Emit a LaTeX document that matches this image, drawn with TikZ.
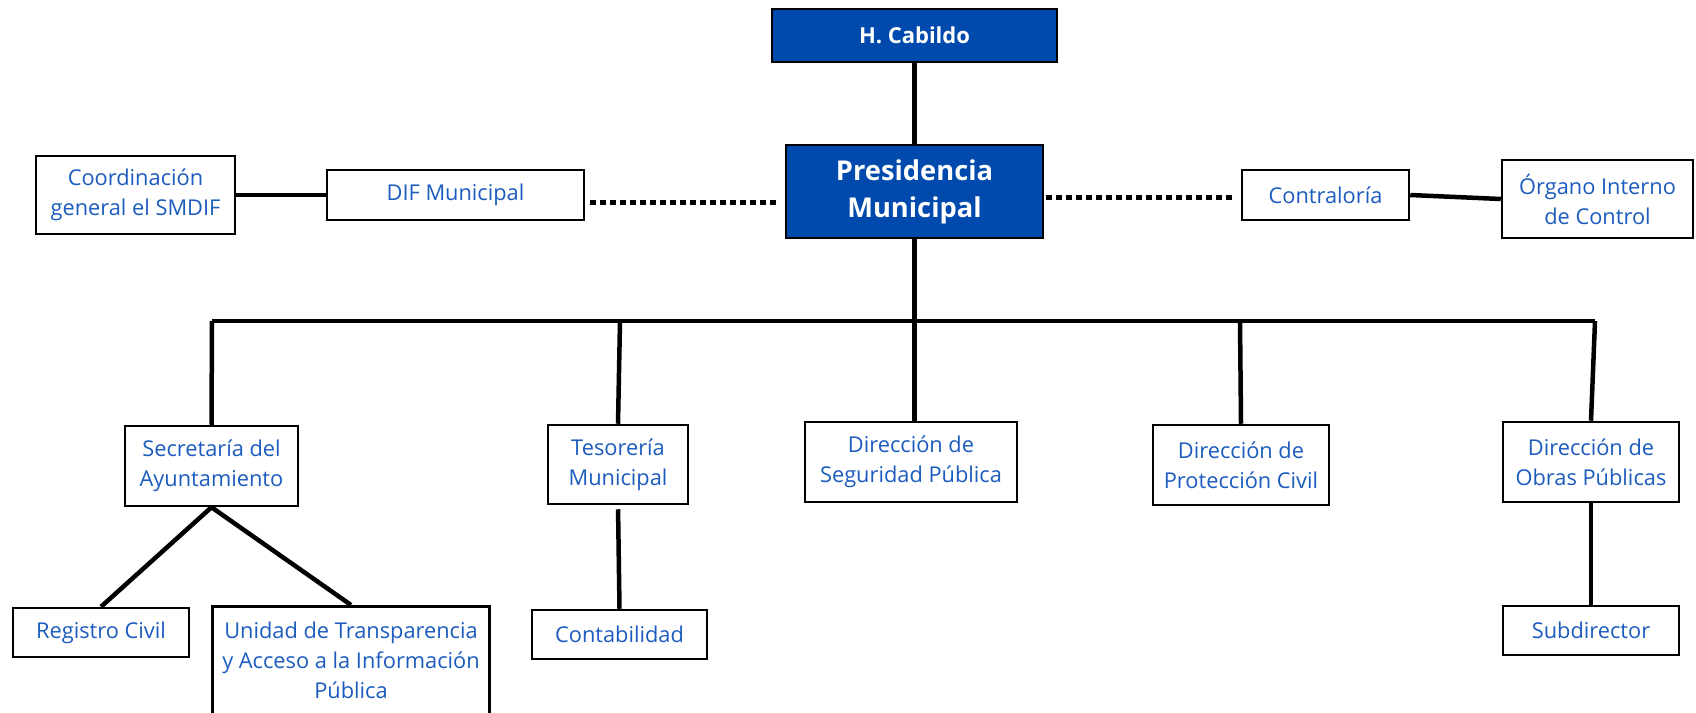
\documentclass[tikz,border=0pt]{standalone}
\usepackage{fontspec}
\setmainfont{Open Sans}
\usetikzlibrary{positioning}
\definecolor{headblue}{RGB}{0,74,173}
\definecolor{unitblue}{RGB}{28,92,190}

\begin{document}
\begin{tikzpicture}[x=1pt,y=-1pt,
  head node/.style={rectangle,draw=black,line width=2.5pt,fill=headblue,text=white,align=center,inner sep=0pt},
  unit node/.style={rectangle,draw=black,line width=2.5pt,fill=white,text=unitblue,align=center,inner sep=0pt,
    font=\fontsize{21.8}{30}\selectfont},
  link/.style={line width=4.5pt},
  dotted link/.style={line width=5pt,dash pattern=on 6pt off 4pt}]
  \useasboundingbox (0,0) rectangle (1696,712);
  \clip (0,0) rectangle (1696,712);

  % top of the chart
  \node[head node, minimum width=285pt, minimum height=53pt, font=\fontsize{22}{26}\selectfont\bfseries] (cab) at (914.5,35.5) {H. Cabildo};
  \node[head node, minimum width=257pt, minimum height=93pt, font=\fontsize{27.3}{37}\selectfont\bfseries] (pres) at (914.5,191.5) {Presidencia\\Municipal};

  % side units
  \node[unit node, minimum width=199pt, minimum height=78pt] (coord) at (135.5,195) {Coordinación\\general el SMDIF};
  \node[unit node, minimum width=257pt, minimum height=50pt] (dif) at (455.5,195) {DIF Municipal};
  \node[unit node, minimum width=167pt, minimum height=50pt] (contra) at (1325.5,195) {Contraloría};
  \node[unit node, minimum width=191pt, minimum height=78pt] (organo) at (1597.5,199) {Órgano Interno\\de Control};

  % direcciones
  \node[unit node, minimum width=173pt, minimum height=80pt] (secre) at (211.5,466) {Secretaría del\\Ayuntamiento};
  \node[unit node, minimum width=140pt, minimum height=79pt] (tes) at (618,464.5) {Tesorería\\Municipal};
  \node[unit node, minimum width=212pt, minimum height=80pt] (seg) at (911,462) {Dirección de\\Seguridad Pública};
  \node[unit node, minimum width=176pt, minimum height=80pt] (prot) at (1241,465) {Dirección de\\Protección Civil};
  \node[unit node, minimum width=176pt, minimum height=80pt] (obras) at (1591,462) {Dirección de\\Obras Públicas};

  % lower units
  \node[unit node, minimum width=176pt, minimum height=49pt] (reg) at (101,632.5) {Registro Civil};
  \node[unit node, minimum width=277pt, inner ysep=16pt, anchor=north] (unidad) at (351,605) {Unidad de Transparencia\\y Acceso a la Información\\Pública};
  \node[unit node, minimum width=175pt, minimum height=49pt] (conta) at (619.5,634.5) {Contabilidad};
  \node[unit node, minimum width=176pt, minimum height=49pt] (sub) at (1591,630.5) {Subdirector};

  % bus
  \coordinate (busL) at (212,321);
  \coordinate (busT) at (620,321);
  \coordinate (busP) at (1240,321);
  \coordinate (busR) at (1595,321);

  \draw[link] (cab.south) -- (pres.north);
  \draw[link] (pres.south) -- (pres.south |- seg.north);
  \draw[link] (busL) -- (busR);
  \draw[link] (busL) -- (secre.north);
  \draw[link] (busT) -- (tes.north);
  \draw[link] (busP) -- (prot.north);
  \draw[link] (busR) -- (obras.north);

  \draw[link] (coord.east) -- (dif.west);
  \draw[link] (contra.east) -- (organo.west);
  \draw[dotted link] ([shift={(5,7)}]dif.east) -- ([shift={(-5,10.5)}]pres.west);
  \draw[dotted link] ([shift={(2,5.5)}]pres.east) -- ([shift={(-7,2)}]contra.west);

  \draw[link] (secre.south) -- (reg.north);
  \draw[link] (secre.south) -- (unidad.north);
  \draw[link, shorten <=4pt] (tes.south) -- (conta.north);
  \draw[link] (obras.south) -- (sub.north);
\end{tikzpicture}
\end{document}
